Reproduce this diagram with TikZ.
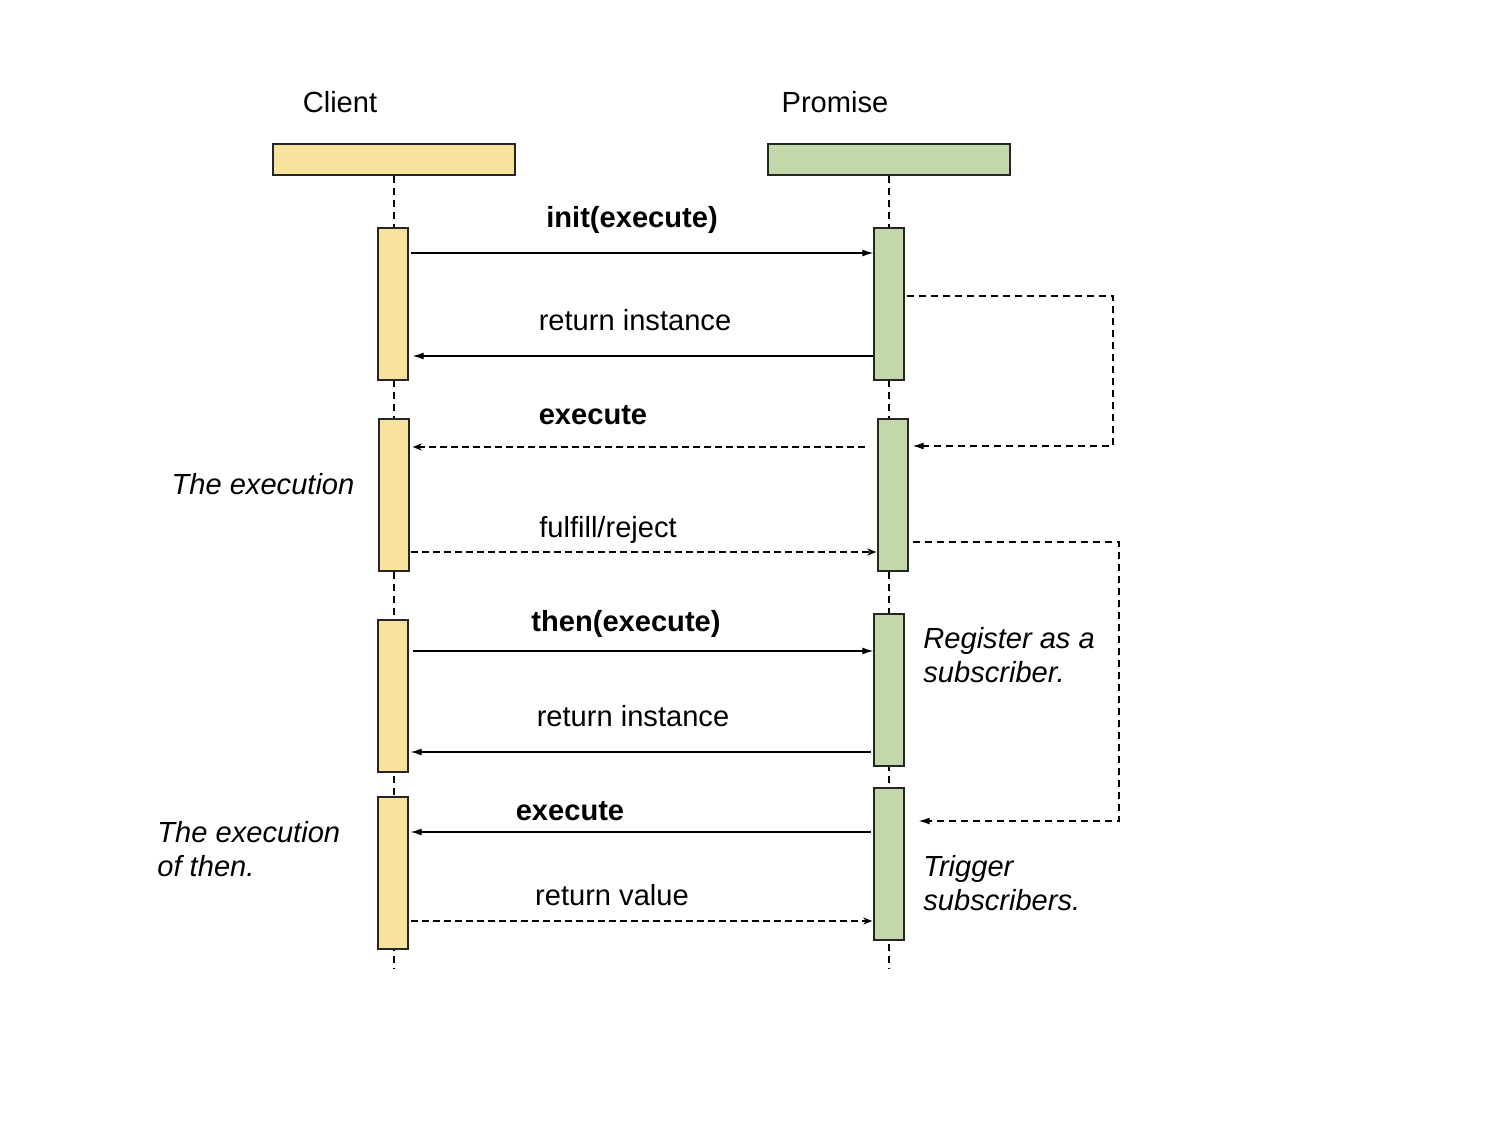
\documentclass[tikz,border=0pt]{standalone}
\usepackage{fontspec}
\setmainfont{Liberation Sans}
\usetikzlibrary{arrows.meta,calc}
\definecolor{cy}{HTML}{F8E39E}
\definecolor{cg}{HTML}{C2D8A8}
\begin{document}
\begin{tikzpicture}[x=0.5pt,y=-0.5pt,
  font=\fontsize{14.55pt}{17pt}\selectfont,
  head/.style={draw=black!85,line width=0.7pt,minimum width=121pt,minimum height=15.5pt,inner sep=0pt},
  actbox/.style={draw=black!85,line width=0.7pt,minimum width=15pt,inner sep=0pt},
  life/.style={line width=0.7pt,dash pattern=on 3.5pt off 2.5pt},
  msg/.style={line width=0.6pt,-{Latex[length=5.5pt,width=3.5pt]}},
  dmsg/.style={line width=0.6pt,dash pattern=on 3.5pt off 2pt,-{Stealth[length=4.5pt,width=3.5pt,inset=1.3pt]}},
  loop/.style={line width=0.65pt,dash pattern=on 3.5pt off 2.5pt,-{Latex[length=5.5pt,width=3.5pt]}},
  lab/.style={inner sep=0pt,anchor=base},
  note/.style={inner sep=0pt,align=left,font=\fontsize{14.55pt}{17pt}\selectfont\itshape}]
\useasboundingbox (0,0) rectangle (1500,1125);
% headers
\node[head,fill=cy] (ch) at (394,159.5) {};
\node[head,fill=cg] (ph) at (889,159.5) {};
\node[lab] (cl) at (340,112) {Client};
\node[lab] (pl) at (835,112) {Promise};
% lifelines
\coordinate (cend) at (394,968);
\coordinate (pend) at (889,968);
\draw[life] (ch.south) -- (cend);
\draw[life] (ph.south) -- (pend);
% activation boxes
\node[actbox,fill=cy,minimum height=76pt] (c1) at (393,304) {};
\node[actbox,fill=cy,minimum height=76pt] (c2) at (394,495) {};
\node[actbox,fill=cy,minimum height=76pt] (c3) at (393,696) {};
\node[actbox,fill=cy,minimum height=76pt] (c4) at (393,873) {};
\node[actbox,fill=cg,minimum height=76pt] (p1) at (889,304) {};
\node[actbox,fill=cg,minimum height=76pt] (p2) at (893,495) {};
\node[actbox,fill=cg,minimum height=76pt] (p3) at (889,690) {};
\node[actbox,fill=cg,minimum height=76pt] (p4) at (889,864) {};
% messages
\draw[msg] ($(c1.east |- 0,253)+(2,0)$) -- (p1.west |- 0,253);
\node[lab,font=\fontsize{14.55pt}{17pt}\selectfont\bfseries] (m1) at (632,227) {init(execute)};
\draw[msg] (p1.west |- 0,356) -- ($(c1.east |- 0,356)+(4,0)$);
\node[lab] (m2) at (635,330) {return instance};
\draw[dmsg] ($(p2.west |- 0,447)+(-12,0)$) -- ($(c2.east |- 0,447)+(3,0)$);
\node[lab,font=\fontsize{14.55pt}{17pt}\selectfont\bfseries] (m3) at (593,424) {execute};
\draw[dmsg] ($(c2.east |- 0,552)+(1,0)$) -- ($(p2.west |- 0,552)+(-1,0)$);
\node[lab] (m4) at (608,537) {fulfill/reject};
\draw[msg] ($(c3.east |- 0,651)+(4,0)$) -- (p3.west |- 0,651);
\node[lab,font=\fontsize{14.55pt}{17pt}\selectfont\bfseries] (m5) at (626,631) {then(execute)};
\draw[msg] ($(p3.west |- 0,752)+(-2,0)$) -- ($(c3.east |- 0,752)+(2,0)$);
\node[lab] (m6) at (633,726) {return instance};
\draw[msg] ($(p4.west |- 0,832)+(-2,0)$) -- ($(c4.east |- 0,832)+(2,0)$);
\node[lab,font=\fontsize{14.55pt}{17pt}\selectfont\bfseries] (m7) at (570,820) {execute};
\draw[dmsg] ($(c4.east |- 0,921)+(2,0)$) -- ($(p4.west |- 0,921)+(-1,0)$);
\node[lab] (m8) at (612,905) {return value};
% loops
\coordinate (l1a) at (1113,296);
\coordinate (l1b) at (1113,446);
\draw[loop] ($(p1.east |- 0,296)+(2,0)$) -- (l1a) -- (l1b) -- ($(p2.east |- 0,446)+(4,0)$);
\coordinate (l2a) at (1119,542);
\coordinate (l2b) at (1119,821);
\draw[loop] ($(p2.east |- 0,542)+(4,0)$) -- (l2a) -- (l2b) -- ($(p4.east |- 0,821)+(14,0)$);
% notes
\node[note,anchor=base] (n1) at (263,494) {The execution};
\node[note,anchor=base west] (n2) at (157,876) {The execution\\of then.};
\node[note,anchor=base west] (n3) at (923,682) {Register as a\\subscriber.};
\node[note,anchor=base west] (n4) at (923,910) {Trigger\\subscribers.};
\end{tikzpicture}
\end{document}
